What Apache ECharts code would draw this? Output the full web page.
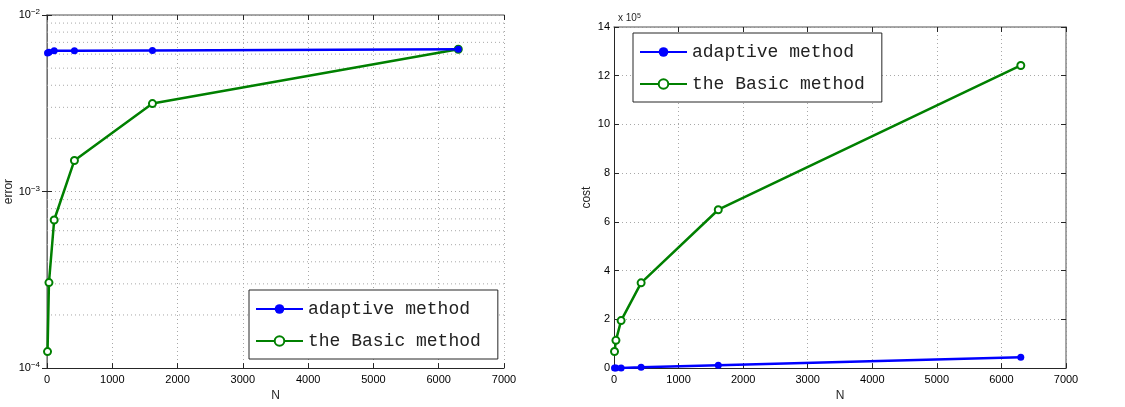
<!DOCTYPE html>
<html>
<head>
<meta charset="utf-8">
<script src="https://cdn.jsdelivr.net/npm/echarts@6/dist/echarts.min.js"></script>
<style>
  html, body { margin: 0; padding: 0; background: #fff; }
  #chart { width: 1125px; height: 407px; }
</style>
</head>
<body>
<div id="chart"></div>
<script>
// Problem sizes shared by both methods
const nValues = [8, 30, 110, 420, 1615, 6300];

// Error of each method (log scale panel)
const errorAdaptive = [6.1e-3, 6.15e-3, 6.28e-3, 6.28e-3, 6.3e-3, 6.4e-3];
const errorBasic = [1.24e-4, 3.05e-4, 6.9e-4, 1.5e-3, 3.15e-3, 6.4e-3];

// Cost of each method (linear panel, tick labels shown in units of 1e5)
const costAdaptive = [60, 220, 800, 3000, 12000, 45000];
const costBasic = [68000, 114000, 195000, 350000, 650000, 1242000];

// Minor decade lines of the log axis
const errorMinorLines = [2e-4, 3e-4, 4e-4, 5e-4, 6e-4, 7e-4, 8e-4, 9e-4,
                         2e-3, 3e-3, 4e-3, 5e-3, 6e-3, 7e-3, 8e-3, 9e-3];

const seriesNames = ['adaptive method', 'the Basic method'];
const nRange = [0, 7000];

const FONT = 'Liberation Sans';
const MONO = 'Liberation Mono';
const BLUE = '#0000ff';
const GREEN = '#008000';
const DARK = '#262626';
const EDGE = '#8a8a8a';
const gridDots = { color: '#a8a8a8', type: [1, 3], width: 1 };

function pairs(xs, ys) { return xs.map((x, i) => [x, ys[i]]); }

const tickIn = { show: true, inside: true, length: 5, lineStyle: { color: DARK, width: 1 } };

function mainX(gridIndex) {
  return {
    type: 'value', gridIndex, position: 'bottom',
    min: nRange[0], max: nRange[1], interval: 1000,
    name: 'N', nameLocation: 'middle', nameGap: 19,
    nameTextStyle: { fontFamily: FONT, fontSize: 12, color: DARK },
    axisLine: { show: true, onZero: false, lineStyle: { color: DARK, width: 1 } },
    axisTick: tickIn,
    axisLabel: { margin: 6, fontFamily: FONT, fontSize: 11, color: '#000', formatter: v => String(v) },
    splitLine: { show: true, lineStyle: gridDots }
  };
}
function edgeX(gridIndex) {
  return {
    type: 'value', gridIndex, position: 'top',
    min: nRange[0], max: nRange[1], interval: 1000,
    axisLine: { show: true, onZero: false, lineStyle: { color: EDGE, width: 1.5 } },
    axisTick: tickIn,
    axisLabel: { show: false }, splitLine: { show: false }
  };
}

function lineSeries(name, xi, yi, data, filled) {
  const color = filled ? BLUE : GREEN;
  return {
    name, type: 'line', xAxisIndex: xi, yAxisIndex: yi, data,
    symbol: filled ? 'circle' : 'emptyCircle',
    symbolSize: 7,
    color,
    lineStyle: { color, width: 2.5 },
    itemStyle: { color, borderColor: color, borderWidth: filled ? 0 : 2 },
    z: filled ? 4 : 3
  };
}

// dotted horizontal line across the whole N range at a given error level
function minorLine(v) {
  return {
    type: 'line', xAxisIndex: 0, yAxisIndex: 0, silent: true,
    data: [[nRange[0], v], [nRange[1], v]],
    symbol: 'none', lineStyle: gridDots, z: 1, tooltip: { show: false }
  };
}

function legendAt(left, top) {
  return {
    data: seriesNames, orient: 'vertical', left, top,
    backgroundColor: '#fff', borderColor: '#262626', borderWidth: 1,
    padding: [10, 17, 9, 6], itemGap: 14, itemWidth: 47, itemHeight: 12,
    textStyle: { fontFamily: MONO, fontSize: 18, color: '#222', lineHeight: 18 }
  };
}

const chart = echarts.init(document.getElementById('chart'), null, { renderer: 'canvas' });

chart.setOption({
  animation: false,
  backgroundColor: '#fff',
  title: {
    text: 'x 10{s|5}', left: 613, top: 8,
    textStyle: {
      fontFamily: FONT, fontSize: 10, fontWeight: 'normal', color: DARK,
      rich: { s: { fontFamily: FONT, fontSize: 7, verticalAlign: 'top', color: DARK } }
    }
  },
  legend: [legendAt(249, 290), legendAt(633, 33)],
  grid: [
    { left: 47, right: 621, top: 15, bottom: 36 },
    { left: 614, right: 59, top: 27, bottom: 36 }
  ],
  xAxis: [mainX(0), edgeX(0), mainX(1), edgeX(1)],
  yAxis: [
    {
      type: 'log', logBase: 10, gridIndex: 0, position: 'left',
      min: 1e-4, max: 1e-2,
      name: 'error', nameLocation: 'middle', nameGap: 27,
      nameTextStyle: { fontFamily: FONT, fontSize: 12, color: DARK },
      axisLine: { show: true, lineStyle: { color: DARK, width: 1 } },
      axisTick: tickIn,
      axisLabel: {
        margin: 7, fontFamily: FONT, fontSize: 11, color: '#000',
        formatter: v => '10{s|−' + Math.abs(Math.round(Math.log10(v))) + '}',
        rich: { s: { fontFamily: FONT, fontSize: 8, verticalAlign: 'top', padding: [0, 0, 6, 0], color: '#000' } }
      },
      splitLine: { show: true, lineStyle: gridDots }
    },
    {
      type: 'log', logBase: 10, gridIndex: 0, position: 'right',
      min: 1e-4, max: 1e-2,
      axisLine: { show: true, lineStyle: { color: EDGE, width: 1.5 } },
      axisTick: tickIn,
      axisLabel: { show: false }, splitLine: { show: false }
    },
    {
      type: 'value', gridIndex: 1, position: 'left',
      min: 0, max: 1400000, interval: 200000,
      name: 'cost', nameLocation: 'middle', nameGap: 21,
      nameTextStyle: { fontFamily: FONT, fontSize: 12, color: DARK },
      axisLine: { show: true, onZero: false, lineStyle: { color: DARK, width: 1 } },
      axisTick: tickIn,
      axisLabel: { margin: 4, fontFamily: FONT, fontSize: 11, color: '#000', formatter: v => String(Math.round(v / 1e5)) },
      splitLine: { show: true, lineStyle: gridDots }
    },
    {
      type: 'value', gridIndex: 1, position: 'right',
      min: 0, max: 1400000, interval: 200000,
      axisLine: { show: true, onZero: false, lineStyle: { color: EDGE, width: 1.5 } },
      axisTick: tickIn,
      axisLabel: { show: false }, splitLine: { show: false }
    }
  ],
  series: [
    ...errorMinorLines.map(minorLine),
    lineSeries(seriesNames[0], 0, 0, pairs(nValues, errorAdaptive), true),
    lineSeries(seriesNames[1], 0, 0, pairs(nValues, errorBasic), false),
    lineSeries(seriesNames[0], 2, 2, pairs(nValues, costAdaptive), true),
    lineSeries(seriesNames[1], 2, 2, pairs(nValues, costBasic), false)
  ]
});
</script>
</body>
</html>
